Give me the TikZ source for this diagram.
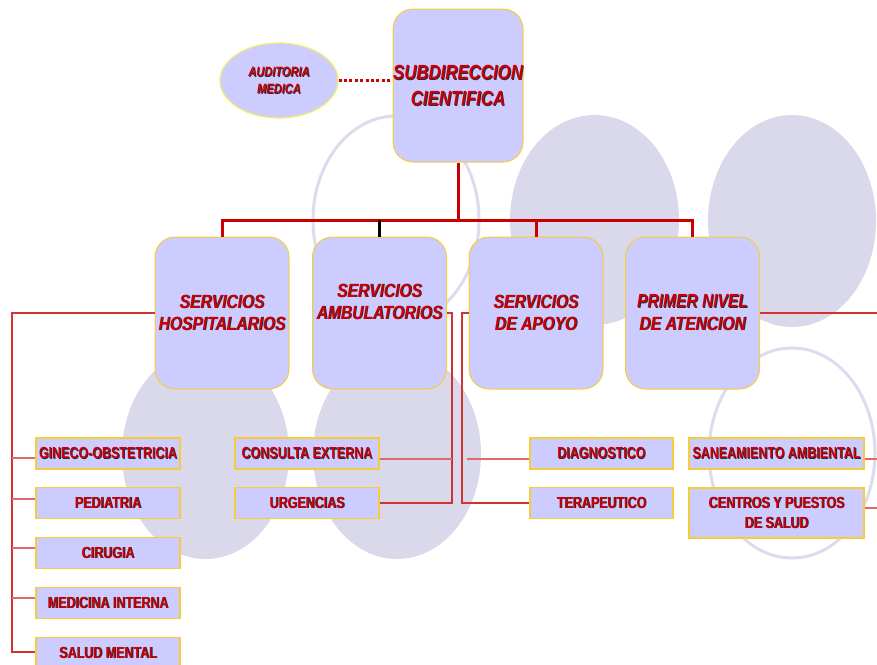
\documentclass[tikz,border=0pt]{standalone}
\usepackage{fontspec}
\setmainfont[FakeStretch=0.82]{Liberation Sans}
\newfontfamily\leaffont[FakeStretch=0.78]{Liberation Sans}
\usetikzlibrary{calc,shapes.geometric}
\definecolor{boxfill}{HTML}{CCCCFF}
\definecolor{boxline}{HTML}{F7CC3A}
\definecolor{audline}{HTML}{F5EE6A}
\definecolor{txtred}{HTML}{CC0000}
\definecolor{bgfill}{HTML}{DAD9EC}
\definecolor{bgline}{HTML}{DCDCEE}
\definecolor{linkred}{HTML}{C80000}
\definecolor{thinred}{HTML}{D23232}
\definecolor{stubred}{HTML}{E06A6A}
\definecolor{shadowc}{HTML}{2A2A40}
\newcommand\shd[1]{\leavevmode\rlap{\kern0.9pt\raisebox{-0.9pt}{\color{shadowc}#1}}#1}
\begin{document}
\begin{tikzpicture}[x=1pt,y=-1pt,
  bgell/.style={fill=bgfill},
  bgring/.style={draw=bgline,line width=3pt},
  mainbox/.style={draw=boxline,fill=boxfill,line width=1pt,rounded corners=20pt,
    minimum width=134pt,minimum height=152pt,inner sep=0pt,align=center,
    text=txtred,font=\fontsize{19}{22}\selectfont\bfseries\itshape},
  maintext/.style={inner sep=0pt,align=center,text=txtred,
    font=\fontsize{19}{22}\selectfont\bfseries\itshape},
  leaf/.style={draw=boxline,fill=boxfill,line width=1.3pt,minimum width=144pt,
    minimum height=31pt,inner sep=0pt,align=center,text=txtred,
    font=\leaffont\fontsize{16}{20}\selectfont\bfseries},
  link/.style={draw=linkred,line width=3pt},
  thinline/.style={draw=thinred,line width=1.3pt},
  stub/.style={draw=stubred,line width=2pt}]
\useasboundingbox (0,0) rectangle (877,664);
% background ellipses
\fill[bgell] (594.5,220) ellipse [x radius=84.5pt,y radius=105pt];
\fill[bgell] (792,221) ellipse [x radius=84pt,y radius=106pt];
\draw[bgring] (396,220) ellipse [x radius=83pt,y radius=104pt];
\fill[bgell] (205.5,454) ellipse [x radius=83.5pt,y radius=105pt];
\fill[bgell] (397,454) ellipse [x radius=84pt,y radius=105pt];
\draw[bgring] (792,453) ellipse [x radius=83pt,y radius=105pt];

% top
\node[mainbox,minimum width=130pt,minimum height=153pt,font=\fontsize{20.5}{26}\selectfont\bfseries\itshape]
  (sub) at (458,85.5) {\shd{SUBDIRECCION}\\\shd{CIENTIFICA}};
\node[draw=audline,fill=boxfill,line width=1.2pt,ellipse,minimum width=118pt,minimum height=75pt,
  inner sep=0pt,align=center,text=txtred,font=\fontsize{13.5}{17}\selectfont\bfseries\itshape]
  (aud) at (279,80.5) {\shd{AUDITORIA}\\\shd{MEDICA}};

% second level
\node[mainbox] (hosp) at (222,313) {\shd{SERVICIOS}\\\shd{HOSPITALARIOS}};
\node[mainbox] (amb) at (379.5,313) {};
\node[maintext] (ambt) at (379.5,302) {\shd{SERVICIOS}\\\shd{AMBULATORIOS}};
\node[mainbox] (apo) at (536,313) {\shd{SERVICIOS}\\\shd{DE APOYO}};
\node[mainbox] (prim) at (692.5,313) {\shd{PRIMER NIVEL}\\\shd{DE ATENCION}};

% leaves
\node[leaf] (gin) at (108,453.5) {\shd{GINECO-OBSTETRICIA}};
\node[leaf] (ped) at (108,503) {\shd{PEDIATRIA}};
\node[leaf] (cir) at (108,553) {\shd{CIRUGIA}};
\node[leaf] (med) at (108,603) {\shd{MEDICINA INTERNA}};
\node[leaf] (sal) at (108,653) {\shd{SALUD MENTAL}};
\node[leaf] (cons) at (307,453.5) {\shd{CONSULTA EXTERNA}};
\node[leaf] (urg) at (307,503) {\shd{URGENCIAS}};
\node[leaf,minimum width=143pt] (diag) at (601.5,453.5) {\shd{DIAGNOSTICO}};
\node[leaf,minimum width=143pt] (ter) at (601.5,503) {\shd{TERAPEUTICO}};
\node[leaf,minimum width=175pt] (san) at (776.5,453.5) {\shd{SANEAMIENTO AMBIENTAL}};
\node[leaf,minimum width=175pt,minimum height=50pt] (cen) at (776.5,513) {\shd{CENTROS Y PUESTOS}\\\shd{DE SALUD}};

% coordinates
\coordinate (bar) at (458,220);
\coordinate (lspine) at (12,0);
\coordinate (ambsp) at (452,0);
\coordinate (aposp) at (462,0);
\coordinate (dgap) at (467,0);
\coordinate (redge) at (877,0);
\coordinate (gs) at ($(gin.west)+(0,4.5)$);
\coordinate (ps) at ($(ped.west)+(0,-4)$);
\coordinate (cs) at ($(cir.west)+(0,-5)$);
\coordinate (ms) at ($(med.west)+(0,-5)$);
\coordinate (ss) at ($(sal.west)+(0,-1)$);
\coordinate (cos) at ($(cons.east)+(0,5)$);
\coordinate (ds) at ($(diag.west)+(0,5)$);
\coordinate (sas) at ($(san.east)+(0,5)$);
\coordinate (ces) at ($(cen.east)+(0,-5)$);

% top connectors
\draw[txtred,line width=3pt,dash pattern=on 3pt off 2.4pt] (aud.east) -- (aud.east -| sub.west);
\draw[link] (sub.south) -- (bar);
\draw[link] (hosp.north) |- (bar) -| (prim.north);
\draw[link] (apo.north) -- (apo.north |- bar);
\draw[black,line width=3pt] (amb.north) -- (amb.north |- bar);

% left branch
\draw[thinline] (hosp.west) -| (lspine |- ss) -- (ss);
\draw[stub] (gs) -- (gs -| lspine);
\draw[stub] (ps) -- (ps -| lspine);
\draw[stub] (cs) -- (cs -| lspine);
\draw[stub] (ms) -- (ms -| lspine);

% ambulatorios branch
\draw[thinline] (amb.east) -| (ambsp |- urg.east) -- (urg.east);
\draw[stub] (cos) -- (cos -| ambsp);

% apoyo branch
\draw[thinline] (apo.west) -| (aposp |- ter.west) -- (ter.west);
\draw[stub] (ds) -- (ds -| dgap);

% primer nivel branch
\draw[thinline] (prim.east) -- (prim.east -| redge);
\draw[stub] (sas) -- (sas -| redge);
\draw[stub] (ces) -- (ces -| redge);
\end{tikzpicture}
\end{document}
